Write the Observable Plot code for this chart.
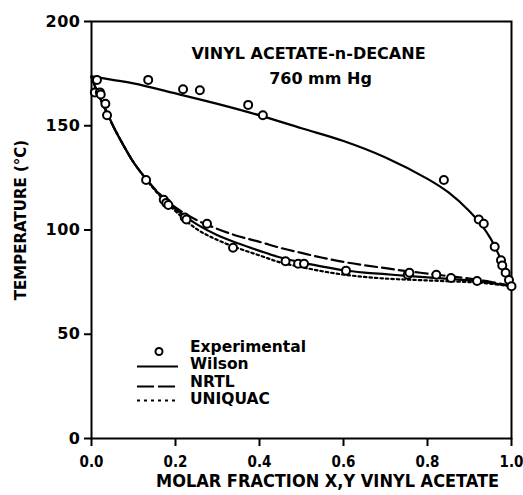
<!DOCTYPE html>
<html><head><meta charset="utf-8">
<script src="https://cdn.jsdelivr.net/npm/d3@7"></script>
<script src="https://cdn.jsdelivr.net/npm/@observablehq/plot@0.6"></script>
<style>
body{margin:0;background:#fff}
#chart{position:relative;width:523px;height:495px}
g[aria-label="title"] text{letter-spacing:2.3px}
g[aria-label="xlabel"] text{letter-spacing:0.2px}
g[aria-label="ylabel"] text{letter-spacing:1px}
g[aria-label="y-axis tick label"] text{letter-spacing:0.5px}
</style>
</head><body><div id="chart"></div>
<script>
// ---- data ----
const titleLines = ["VINYL ACETATE-n-DECANE", "760 mm Hg"];
const xLabel = "MOLAR FRACTION X,Y VINYL ACETATE";
const yLabel = "TEMPERATURE (°C)";
const xTicks = [0, 0.2, 0.4, 0.6, 0.8, 1.0];
const yTicks = [0, 50, 100, 150, 200];
const legendLabels = ["Experimental", "Wilson", "NRTL", "UNIQUAC"];

// experimental points (x or y molar fraction, temperature °C)
const expX = [0.008, 0.013, 0.020, 0.022, 0.033, 0.037, 0.130, 0.135, 0.172, 0.178, 0.183, 0.218, 0.222, 0.226, 0.258, 0.275, 0.337, 0.373, 0.408, 0.462, 0.492, 0.506, 0.606, 0.753, 0.757, 0.821, 0.839, 0.856, 0.918, 0.922, 0.934, 0.960, 0.975, 0.978, 0.986, 0.994, 1.000];
const expT = [166, 172, 166, 165, 160.5, 155, 124, 172, 114.5, 113, 112, 167.5, 106, 105, 167, 103, 91.5, 160, 155, 85, 83.8, 83.8, 80.5, 78.5, 79.5, 78.5, 124, 77, 75.5, 105, 103, 92, 85.5, 83, 79.5, 76, 73];

// dew curve (Wilson; NRTL and UNIQUAC coincide)
const dewX = [0, 0.05, 0.1, 0.2, 0.3, 0.4, 0.5, 0.6, 0.7, 0.8, 0.85, 0.9, 0.93, 0.95, 0.97, 0.98, 0.99, 1.0];
const dewT = [173.7, 172, 170.3, 165.5, 160.5, 155, 148.8, 142.7, 134.8, 124.5, 118, 109, 102, 96, 88, 83.5, 78.5, 73];

// bubble curves
const bubX = [0, 0.01, 0.02, 0.03, 0.04, 0.05, 0.075, 0.1, 0.13, 0.16, 0.2, 0.25, 0.3, 0.35, 0.4, 0.45, 0.5, 0.55, 0.6, 0.65, 0.7, 0.75, 0.8, 0.85, 0.9, 0.95, 1.0];
const wilsonT  = [173.5, 168, 163.5, 159, 155, 150.5, 141, 132.5, 124.5, 117.5, 110, 102.8, 97.5, 93.5, 90, 86.8, 84.5, 82.4, 80.7, 79.6, 78.8, 78, 77.3, 76.6, 75.8, 74.6, 73];
const nrtlT    = [173.5, 168, 163.5, 159, 155, 150.5, 141, 132.5, 124.5, 117.7, 110.8, 104.8, 100.5, 97, 94.3, 91.4, 89, 86.7, 84.7, 83.1, 81.7, 80.3, 79.1, 77.9, 76.7, 75.2, 73];
const uniquacT = [173.5, 168, 163.5, 159, 155, 150.5, 141, 132.5, 124.3, 117, 109, 100.5, 95.2, 91.2, 87.8, 84.4, 82.2, 80.2, 78.6, 77.5, 76.7, 76.2, 75.8, 75.4, 75, 74.2, 73];

// ---- build tables ----
const expPts = expX.map((x, i) => ({x, t: expT[i]}));
const dew = dewX.map((x, i) => ({x, t: dewT[i]}));
const wilson = bubX.map((x, i) => ({x, t: wilsonT[i]}));
const nrtl = bubX.map((x, i) => ({x, t: nrtlT[i]}));
const uniquac = bubX.map((x, i) => ({x, t: uniquacT[i]}));

const FONT = "'DejaVu Sans', sans-serif";
const FONT_C = "'DejaVu Sans Condensed', 'DejaVu Sans', sans-serif";
const DASH = "12,5", DOT = "2.5,3";

const chart = Plot.plot({
  width: 523, height: 495,
  marginTop: 21, marginRight: 12, marginBottom: 57, marginLeft: 91,
  style: {fontFamily: FONT, background: "#fff", color: "#000"},
  x: {domain: [0, 1]},
  y: {domain: [0, 200]},
  marks: [
    Plot.frame({strokeWidth: 2}),
    Plot.axisX(xTicks, {tickSize: 8, tickPadding: 10, tickFormat: d3.format(".1f"), fontSize: 15, fontFamily: FONT_C, fontWeight: "bold", strokeWidth: 2, label: null}),
    Plot.axisY(yTicks, {tickSize: 7, tickPadding: 4, fontSize: 16, fontWeight: "bold", strokeWidth: 2, label: null}),
    Plot.line(dew, {x: "x", y: "t", curve: "catmull-rom", strokeWidth: 2.2}),
    Plot.line(nrtl, {x: "x", y: "t", curve: "catmull-rom", strokeWidth: 2.2, strokeDasharray: DASH}),
    Plot.line(uniquac, {x: "x", y: "t", curve: "catmull-rom", strokeWidth: 2.2, strokeDasharray: DOT}),
    Plot.line(wilson, {x: "x", y: "t", curve: "catmull-rom", strokeWidth: 2.2}),
    Plot.dot(expPts, {x: "x", y: "t", r: 4, stroke: "#000", strokeWidth: 2, fill: "#fff"}),
    Plot.text([titleLines[0]], {frameAnchor: "top", lineAnchor: "middle", dx: 7, dy: 32.5, fontSize: 16, fontWeight: "bold", ariaLabel: "title"}),
    Plot.text([titleLines[1]], {frameAnchor: "top", lineAnchor: "middle", dx: 19, dy: 57.5, fontSize: 16, fontWeight: "bold", ariaLabel: "title"}),
    Plot.text([xLabel], {frameAnchor: "bottom", lineAnchor: "middle", dx: 26, dy: 43, fontSize: 18, fontFamily: FONT_C, fontWeight: "bold", ariaLabel: "xlabel"}),
    Plot.text([yLabel], {frameAnchor: "left", textAnchor: "middle", dx: -70, dy: -10, rotate: -90, fontSize: 15, fontWeight: "bold", ariaLabel: "ylabel"})
  ]
});
document.getElementById("chart").appendChild(chart);

// ---- legend inside the plot area ----
const svg = d3.select(chart);
const lg = svg.append("g").attr("font-family", FONT).attr("font-weight", "bold")
  .attr("font-size", 15.5).attr("text-anchor", "start");
const rowY = [347, 363.5, 382, 398.5];
const sampleY = [351.5, 366.5, 386.5, 400.5];
const styles = [null, null, "17,4", "3,4"];
legendLabels.forEach((lab, i) => {
  if (i === 0) {
    lg.append("circle").attr("cx", 159).attr("cy", sampleY[i]).attr("r", 3.5)
      .attr("fill", "#fff").attr("stroke", "#000").attr("stroke-width", 2);
  } else {
    lg.append("line").attr("x1", 137).attr("x2", 178).attr("y1", sampleY[i]).attr("y2", sampleY[i])
      .attr("stroke", "#000").attr("stroke-width", 2.2)
      .attr("stroke-dasharray", styles[i]);
  }
  lg.append("text").attr("x", 190).attr("y", rowY[i]).attr("dy", "0.35em").text(lab);
});
</script>
</body></html>
